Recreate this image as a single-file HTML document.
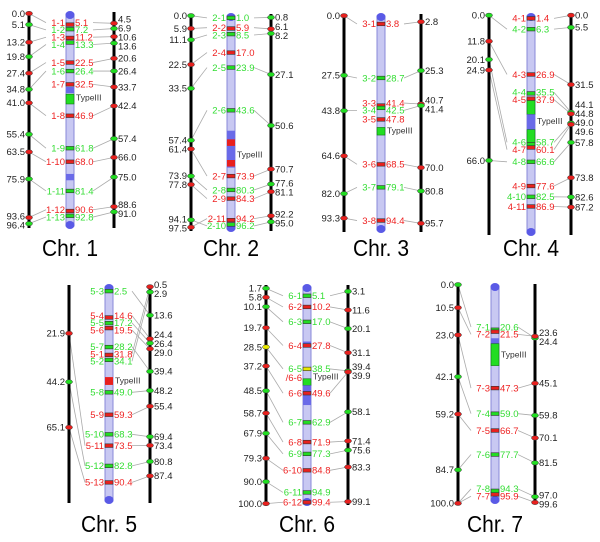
<!DOCTYPE html>
<html><head><meta charset="utf-8"><style>
body{margin:0;background:#fff}
svg{display:block;font-family:"Liberation Sans",sans-serif}
</style></head><body>
<svg id="chart" width="600" height="542" viewBox="0 0 600 542" xmlns="http://www.w3.org/2000/svg"></svg>
<script>
// ---- data (cM values) : [label, midValue, leftValue, rightValue, color]
const chr1Markers = [["1-1",5.1,0.0,4.5,"r"],["1-2",7.2,5.1,6.9,"g"],["1-3",11.2,13.2,10.6,"r"],["1-4",13.3,19.8,13.6,"g"],["1-5",22.5,27.4,20.6,"r"],["1-6",26.4,34.8,26.4,"g"],["1-7",32.5,null,33.7,"r"],["1-8",46.9,41.0,42.4,"r"],["1-9",61.8,55.4,57.4,"g"],["1-10",68.0,63.5,66.0,"r"],["1-11",81.4,75.9,75.0,"g"],["1-12",90.6,93.6,88.6,"r"],["1-13",92.8,96.4,91.0,"g"]];
const chr2Markers = [["2-1",1.0,0.0,0.8,"g"],["2-2",5.9,5.9,6.1,"r"],["2-3",8.5,11.1,8.2,"g"],["2-4",17.0,22.5,null,"r"],["2-5",23.9,33.5,27.1,"g"],["2-6",43.6,57.4,50.6,"g"],["2-7",73.9,61.4,70.7,"r"],["2-8",80.3,73.9,77.6,"g"],["2-9",84.3,77.8,81.1,"r"],["2-11",94.2,97.5,92.2,"r"],["2-10",96.2,94.1,95.0,"g"]];
const chr3Markers = [["3-1",3.8,0.0,2.8,"r"],["3-2",28.7,27.5,25.3,"g"],["3-3",41.4,null,40.7,"r"],["3-4",42.5,43.8,41.4,"g"],["3-5",47.8,null,null,"r"],["3-6",68.5,64.6,70.0,"r"],["3-7",79.1,82.0,80.8,"g"],["3-8",94.4,93.3,95.7,"r"]];
const chr4Markers = [["4-1",1.4,null,0.0,"r"],["4-2",6.3,0.0,5.5,"g"],["4-3",26.9,11.8,31.5,"r"],["4-4",35.5,null,44.1,"g"],["4-5",37.9,null,44.8,"r"],["4-6",58.7,20.1,49.0,"g"],["4-7",60.1,24.9,49.6,"r"],["4-8",66.6,66.0,57.8,"g"],["4-9",77.6,null,73.8,"r"],["4-10",82.5,null,82.6,"g"],["4-11",86.9,null,87.2,"r"]];
const chr5Markers = [["5-3",2.5,null,13.6,"g"],["5-4",14.6,null,24.4,"r"],["5-5",17.2,null,26.4,"g"],["5-6",19.5,null,29.0,"r"],["5-7",28.2,null,39.4,"g"],["5-1",31.8,null,0.5,"r"],["5-2",34.1,null,2.9,"g"],["5-8",49.0,null,48.2,"g"],["5-9",59.3,null,55.4,"r"],["5-10",68.3,null,69.4,"g"],["5-11",73.5,21.9,73.4,"r"],["5-12",82.8,44.2,80.8,"g"],["5-13",90.4,65.1,87.4,"r"]];
const chr6Markers = [["6-1",5.1,1.7,3.1,"g"],["6-2",10.2,5.8,11.6,"r"],["6-3",17.0,10.1,20.1,"g"],["6-4",27.8,19.7,31.1,"r"],["6-5",38.5,28.5,39.4,"y"],["6-6",49.6,37.2,39.9,"r"],["6-7",62.9,48.5,58.1,"g"],["6-8",71.9,58.7,71.4,"r"],["6-9",77.3,67.9,75.6,"g"],["6-10",84.8,79.3,83.3,"r"],["6-11",94.9,90.0,null,"g"],["6-12",99.4,100.0,99.1,"r"]];
const chr7Markers = [["7-1",20.6,0.0,24.4,"g"],["7-2",21.5,10.5,23.6,"r"],["7-3",47.3,23.0,45.1,"r"],["7-4",59.0,42.1,59.8,"g"],["7-5",66.7,59.2,70.1,"r"],["7-6",77.7,84.7,81.5,"g"],["7-7",95.9,100.0,99.6,"r"],["7-8",94.3,100.0,97.0,"g"]];
// bands on the chromosome bar [from, to, color]
const chr1Bands = [[33.7,36.5,"b"],[37,41.5,"g"],[73.6,76.5,"b"]];
const chr2Bands = [[53,70,"b"],[57,60,"r"],[66.5,69.5,"r"]];
const chr3Bands = [[51.5,55,"g"]];
const chr4Bands = [[38,45,"g"],[45,52,"b"],[52,58,"g"]];
const chr5Bands = [[42,45.6,"r"]];
const chr6Bands = [[26,28.5,"b"],[43,46,"g"],[46,55,"b"]];
const chr7Bands = [[24.5,27,"b"],[27,37,"g"]];

const layout = [
 {t:"Chr. 1",m:chr1Markers,b:chr1Bands,xL:29,xM:70,xR:114,y0:13.5,k:2.18,top:12,bot:228,ty:256,tp:38.5},
 {t:"Chr. 2",m:chr2Markers,b:chr2Bands,xL:191,xM:231,xR:271,y0:15.7,k:2.17,top:14,bot:231,ty:256,tp:64},
 {t:"Chr. 3",m:chr3Markers,b:chr3Bands,xL:344,xM:381,xR:421,y0:15.7,k:2.17,top:14,bot:232,ty:256,tp:53},
 {t:"Chr. 4",m:chr4Markers,b:chr4Bands,xL:489,xM:531,xR:571,y0:15.3,k:2.2,top:14,bot:235,ty:256,tp:48},
 {t:"Chr. 5",m:chr5Markers,b:chr5Bands,xL:69,xM:109,xR:150,y0:285.7,k:2.176,top:285,bot:503,ty:532,tp:43.5},
 {t:"Chr. 6",m:chr6Markers,b:chr6Bands,xL:266,xM:307,xR:348,y0:284.6,k:2.19,top:285,bot:505,ty:532,tp:42},
 {t:"Chr. 7",m:chr7Markers,b:chr7Bands,xL:458,xM:495,xR:535,y0:284.7,k:2.186,top:284,bot:503,ty:532,tp:32}
];
const COL = {r:"#e8201e",g:"#22dd22",y:"#e8e800",b:"#6a6ae8"};
const TXT = {r:"#ee2222",g:"#33dd33",y:"#33dd33"};
const svg = document.getElementById("chart");
const NS = "http://www.w3.org/2000/svg";
function el(tag, attrs, parent){const e=document.createElementNS(NS,tag);for(const a in attrs)e.setAttribute(a,attrs[a]);(parent||svg).appendChild(e);return e;}
function spread(ys, gap){
  const idx = ys.map((y,i)=>i).sort((a,b)=>ys[a]-ys[b]);
  const out = ys.slice();
  for(let it=0;it<60;it++){
    for(let j=1;j<idx.length;j++){
      const a=idx[j-1], b=idx[j];
      const d=out[b]-out[a];
      if(d<gap){const s=(gap-d)/2;out[a]-=s;out[b]+=s;}
    }
  }
  return out;
}

layout.forEach((c, ci) => {
  const g = el("g", {});
  
  
  const Y = v => c.y0 + v * c.k;
  const ms = c.m;
  const midY = spread(ms.map(m => Y(m[1])), 7.3);
  const lefts = ms.filter(m => m[2] !== null);
  const leftVals = [...new Set(lefts.map(m => m[2]))];
  const leftLbl = spread(leftVals.map(Y), 9);
  const rights = ms.filter(m => m[3] !== null);
  const rightVals = [...new Set(rights.map(m => m[3]))];
  const rightLbl = spread(rightVals.map(Y), 9);

  ms.forEach((m, i) => {
    if (m[2] !== null) {
      const ln = el("line", {x1:c.xL, y1:Y(m[2]), x2:c.xM-24, y2:midY[i], stroke:"#aaa", "stroke-width":0.8}, g);
      
      
    }
    if (m[3] !== null) {
      const ln = el("line", {x1:c.xM+23, y1:midY[i], x2:c.xR, y2:Y(m[3]), stroke:"#aaa", "stroke-width":0.8}, g);
      
      
    }
  });
  [c.xL, c.xR].forEach((x, k) => {
    const a = el("line", {x1:x, y1:c.top, x2:x, y2:c.bot, stroke:"#000", "stroke-width":3}, g);
    
    
  });
  const bar = el("rect", {x:c.xM-4, y:c.top+2, width:8, height:c.bot-c.top-4, fill:"#c8c8f2", stroke:"#8888d8", "stroke-width":1}, g);
  
  
  [c.top+3, c.bot-3].forEach(cy => {
    const e = el("ellipse", {cx:c.xM, cy:cy, rx:4.5, ry:4, fill:"#5a5ae6"}, g);
    
    
  });
  c.b.forEach(b => {
    const r = el("rect", {x:c.xM-4, y:Y(b[0]), width:8, height:(b[1]-b[0])*c.k, fill:COL[b[2]], stroke: b[2]==="g" ? "#117711" : "none", "stroke-width":0.6}, g);
    
    
  });
  const tl = el("text", {x:c.xM+6, y:c.y0+c.tp*c.k+3, "font-size":8.5, fill:"#333"}, g);
  tl.textContent = "TypeIII";
  
  
  ms.forEach((m, i) => {
    const y = Y(m[1]);
    const mk = el("rect", {x:c.xM-4, y:y-1.8, width:8, height:3.6, fill:COL[m[4]], stroke:"#333", "stroke-width":0.6}, g);
    
    
    const l = el("text", {x:c.xM-5, y:midY[i]+3.3, "font-size":9.5, "text-anchor":"end", fill:TXT[m[4]]}, g);
    l.textContent = m[0];
    
    
    const v = el("text", {x:c.xM+5, y:midY[i]+3.3, "font-size":9.5, fill:TXT[m[4]]}, g);
    v.textContent = m[1].toFixed(1);
    
    
    if (m[0] === "6-5") {
      const s = el("text", {x:c.xM-5, y:midY[i]+12, "font-size":9.5, "text-anchor":"end", fill:TXT.r}, g);
      s.textContent = "/6-6";
      
      
    }
  });
  leftVals.forEach((v, i) => {
    const m = lefts.find(q => q[2] === v);
    const e = el("ellipse", {cx:c.xL, cy:Y(v), rx:3.5, ry:2.2, fill:COL[m[4]], stroke:"#333", "stroke-width":0.5}, g);
    
    
    const t = el("text", {x:c.xL-4, y:leftLbl[i]+3.3, "font-size":9.5, "text-anchor":"end", fill:"#222"}, g);
    t.textContent = v.toFixed(1);
    
    
  });
  rightVals.forEach((v, i) => {
    const m = rights.find(q => q[3] === v);
    const e = el("ellipse", {cx:c.xR, cy:Y(v), rx:3.5, ry:2.2, fill:COL[m[4]==="y"?"g":m[4]], stroke:"#333", "stroke-width":0.5}, g);
    
    
    const t = el("text", {x:c.xR+4, y:rightLbl[i]+3.3, "font-size":9.5, fill:"#222"}, g);
    t.textContent = v.toFixed(1);
    
    
  });
  const title = el("text", {x:c.xM-28, y:c.ty, "font-size":23, fill:"#000", textLength:56, lengthAdjust:"spacingAndGlyphs"}, g);
  title.textContent = c.t;
  
  
});
</script>
</body></html>
